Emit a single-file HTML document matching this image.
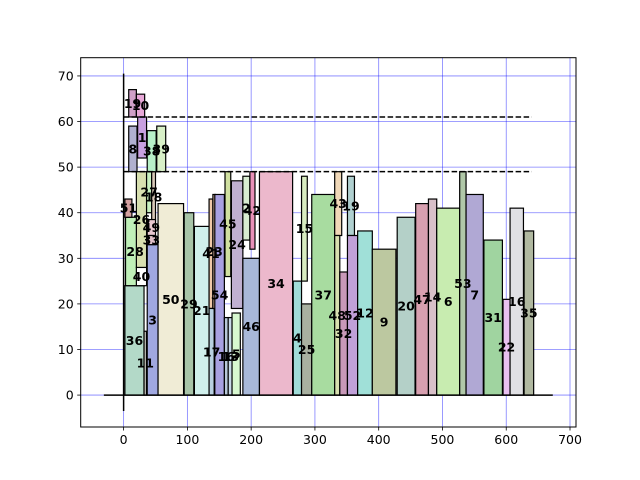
<!DOCTYPE html>
<html><head><meta charset="utf-8"><style>
body{margin:0;background:#fff;}
svg{display:block;font-family:"DejaVu Sans","Liberation Sans",sans-serif;}
</style></head><body>
<svg id="chart" width="640" height="480"></svg>
<script>
const labels=["36","11","3","50","29","21","28","40","51","26","27","18","49","33","8","1","38","39","19","10","41","17","23","54","45","16","13","5","24","2","42","46","34","4","15","25","37","43","48","32","19","52","12","9","20","47","14","6","53","7","31","22","16","35"];
const x0s=[2,32,37,54,95,111,3,20,2,20,36,44,37,37,8,22,37,52,8,20,134,134,140,143,159,158,164,170,169,187,198,187,213,266,279,279,295,331,331,339,351,351,367,390,429,458,478,491,527,537,565,595,606,628];
const widths=[30,4,17,40,15,23,30,16,11,16,8,6,13,13,13,14,14,14,12,13,6,8,4,15,9,6,7,13,18,11,8,26,52,13,9,16,36,11,8,12,11,16,23,37,28,20,13,36,10,27,29,11,21,15];
const y0s=[0,0,0,0,0,0,24,24,39,28,40,38,35,33,49,52,49,49,61,61,19,0,19,0,26,0,0,0,19,34,32,0,0,0,25,0,0,35,0,0,35,0,0,0,0,0,0,0,0,0,0,0,0,0];
const heights=[24,14,33,42,40,37,15,4,4,21,9,11,3.5,2,10,9,9,10,6,5,24,19,25,44,23,17,17,18,28,14,17,30,49,25,23,20,44,14,35,27,13,35,36,32,39,42,43,41,49,44,34,21,41,36];
const colors=["#b3d9c8","#b8b8b0","#a0a8e0","#f0ecd6","#a8c4a8","#d0f0ec","#c0f0b8","#ffffff","#d4a0a0","#d8e0b0","#c8f0c0","#d8c8b8","#e8c8d0","#e0c0c8","#b0b0d0","#c8a0e0","#b8f0c8","#d8f0c8","#d0a0c8","#e8a8d8","#f0c8a8","#b8d0e0","#e0b8a0","#a8a0e0","#d0e0a0","#b8c8d8","#c8d8e8","#d8f8d0","#c0b0d0","#d8ecd0","#e890b8","#a8b8d8","#ecb8cc","#a0dcd8","#d8ecc0","#a8b0a0","#a8dca0","#f0d8b8","#d8e0b0","#c898b8","#b0d0d0","#c0a0d8","#a0e0d8","#bcc8a0","#b4d0c8","#d8a0b0","#d8c0c8","#c8ecb0","#b0c8a8","#b0a8d4","#a0d4a0","#e8c0f0","#e0e0e4","#b0b8a0"];
const xTicks=[0,100,200,300,400,500,600,700];
const yTicks=[0,10,20,30,40,50,60,70];
const dashLevels=[61,49];

const L=80.7,R=576,T=57.7,B=427;
const xmin=-67.3,xmax=709.4,ymin=-7.0,ymax=74.0;
const sx=v=>L+(v-xmin)/(xmax-xmin)*(R-L);
const sy=v=>B-(v-ymin)/(ymax-ymin)*(B-T);
const svg=document.getElementById('chart');
const NS="http://www.w3.org/2000/svg";
function mk(t,a){const e=document.createElementNS(NS,t);for(const k in a)e.setAttribute(k,a[k]);svg.appendChild(e);return e;}

xTicks.forEach(t=>{
  const g=mk('line',{x1:sx(t),x2:sx(t),y1:T,y2:B,stroke:'#0000ff','stroke-opacity':0.5,'stroke-width':0.8});
  
  
});
yTicks.forEach(t=>{
  const g=mk('line',{x1:L,x2:R,y1:sy(t),y2:sy(t),stroke:'#0000ff','stroke-opacity':0.5,'stroke-width':0.8});
  
  
});
for(let i=0;i<labels.length;i++){
  const r=mk('rect',{x:sx(x0s[i]),y:sy(y0s[i]+heights[i]),width:sx(x0s[i]+widths[i])-sx(x0s[i]),height:sy(y0s[i])-sy(y0s[i]+heights[i]),fill:colors[i],stroke:'#000','stroke-width':1.2});
  
  
}
dashLevels.forEach(v=>{
  const d=mk('line',{x1:sx(0),x2:sx(640),y1:sy(v),y2:sy(v),stroke:'#000','stroke-width':1.5,'stroke-dasharray':'5.5,2.5'});
  
  
});
const zv=mk('line',{x1:sx(0),x2:sx(0),y1:sy(-3.5),y2:sy(70.5),stroke:'#000','stroke-width':1.5});


const zh=mk('line',{x1:sx(-31),x2:sx(673),y1:sy(0),y2:sy(0),stroke:'#000','stroke-width':1.5});


for(let i=0;i<labels.length;i++){
  const t=mk('text',{x:sx(x0s[i]+widths[i]/2),y:sy(y0s[i]+heights[i]/2)+4.5,'text-anchor':'middle','font-size':12.5,'font-weight':'bold',fill:'#000'});
  t.textContent=labels[i];
  
  
}
const f=mk('rect',{x:L,y:T,width:R-L,height:B-T,fill:'none',stroke:'#000','stroke-width':1});


xTicks.forEach(t=>{
  const k=mk('line',{x1:sx(t),x2:sx(t),y1:B,y2:B+3.5,stroke:'#000','stroke-width':0.8});
  
  
  const l=mk('text',{x:sx(t),y:B+17,'text-anchor':'middle','font-size':12.5,fill:'#000'});
  l.textContent=t;
  
  
});
yTicks.forEach(t=>{
  const k=mk('line',{x1:L-3.5,x2:L,y1:sy(t),y2:sy(t),stroke:'#000','stroke-width':0.8});
  
  
  const l=mk('text',{x:L-7,y:sy(t)+4.5,'text-anchor':'end','font-size':12.5,fill:'#000'});
  l.textContent=t;
  
  
});
</script>
</body></html>
